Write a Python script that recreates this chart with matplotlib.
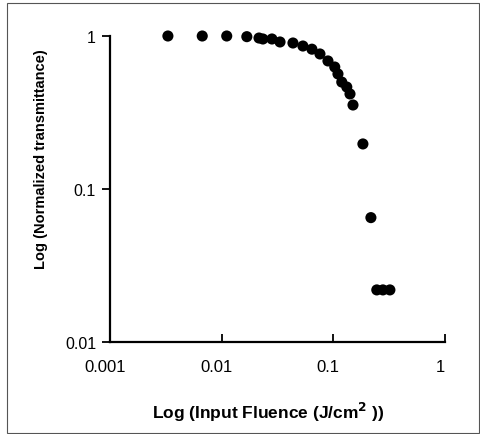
import matplotlib
matplotlib.use("Agg")
import matplotlib.pyplot as plt
import matplotlib.transforms as mtransforms
from matplotlib.patches import Rectangle

plt.rcParams['font.family'] = ['Liberation Sans', 'DejaVu Sans']

# input fluence (J/cm^2) and normalized transmittance
fluence = [0.0033, 0.0067, 0.0111, 0.0168, 0.0216, 0.0234, 0.0282, 0.0333,
           0.0435, 0.0534, 0.0643, 0.0759, 0.0895, 0.103, 0.110, 0.119,
           0.132, 0.141, 0.150, 0.184, 0.217, 0.245, 0.278, 0.321]
transmittance = [1.0, 1.0, 1.0, 0.99, 0.97, 0.956, 0.956, 0.914,
                 0.90, 0.86, 0.82, 0.763, 0.687, 0.627, 0.565, 0.50,
                 0.464, 0.418, 0.354, 0.197, 0.065, 0.0219, 0.0219, 0.0219]

xticks = [0.001, 0.01, 0.1, 1]
xtick_labels = ['0.001', '0.01', '0.1', '1']
yticks = [0.01, 0.1, 1]
ytick_labels = ['0.01', '0.1', '1']

fig = plt.figure(figsize=(4.8, 4.35), dpi=100)
ax = fig.add_axes([110 / 480, 1 - 343 / 435, 335 / 480, 306 / 435])

ax.scatter(fluence, transmittance, s=64, color='black', edgecolors='none', clip_on=False, zorder=3)

ax.set_xscale('log')
ax.set_yscale('log')
ax.set_xlim(0.001, 1)
ax.set_ylim(0.01, 1)

ax.set_xticks(xticks)
ax.set_xticklabels(xtick_labels, fontsize=12)
ax.set_yticks(yticks)
ax.set_yticklabels(ytick_labels, fontsize=11.5)
ax.minorticks_off()

ax.tick_params(axis='x', direction='in', length=6, width=1.3, pad=12)
ax.tick_params(axis='y', direction='out', length=6, width=1.3, pad=4)

# labels sit a little left of their ticks in the original
offset = mtransforms.ScaledTranslation(-5 / 100, 0, fig.dpi_scale_trans)
for lbl in ax.get_xticklabels():
    lbl.set_transform(lbl.get_transform() + offset)

for side in ['top', 'right']:
    ax.spines[side].set_visible(False)
for side in ['left', 'bottom']:
    ax.spines[side].set_linewidth(1.6)

fig.text(268 / 480, 1 - 412 / 435, 'Log (Input Fluence (J/cm$^{\\mathbf{2}}$ ))',
         ha='center', va='center', fontsize=12.5, fontweight='bold')
fig.text(41 / 480, 1 - 159 / 435, 'Log (Normalized transmittance)',
         ha='center', va='center', rotation=90, fontsize=10.5, fontweight='bold')

# frame around the whole figure
fig.patches.append(Rectangle((7 / 480, 1 - 434 / 435), 472 / 480, 430 / 435,
                             transform=fig.transFigure, fill=False,
                             edgecolor='#555555', linewidth=0.8))

fig.savefig('out.png', dpi=100)
